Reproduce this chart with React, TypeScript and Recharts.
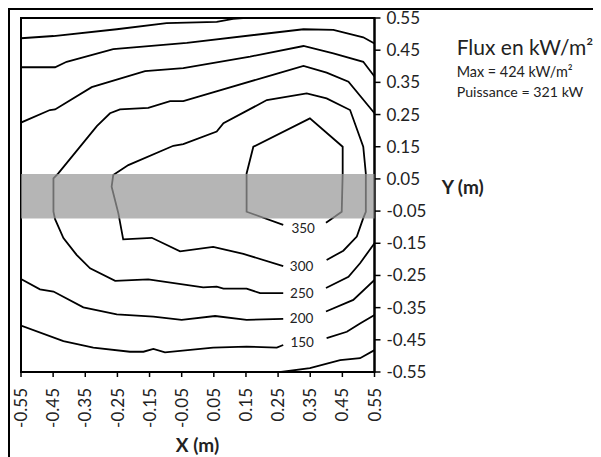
import { LineChart, Line, XAxis, YAxis, ReferenceArea, Scatter } from "recharts";

type Pt = { x: number; y: number };
const pts = (a: number[][]): Pt[] => a.map(([x, y]) => ({ x, y }));

const axisTicks = [-0.55, -0.45, -0.35, -0.25, -0.15, -0.05, 0.05, 0.15, 0.25, 0.35, 0.45, 0.55];

// contour pieces (m, m)
const c100Top = pts([[-0.55, 0.487], [-0.449, 0.494], [-0.252, 0.515], [-0.097, 0.534], [0.059, 0.538], [0.11, 0.547], [0.141, 0.55]]);
const c100Bottom = pts([[0.259, -0.55], [0.349, -0.538], [0.443, -0.513], [0.505, -0.507], [0.55, -0.482]]);
const c150Top = pts([[-0.55, 0.397], [-0.444, 0.397], [-0.408, 0.414], [-0.263, 0.453], [-0.034, 0.473], [0.329, 0.515], [0.422, 0.513], [0.515, 0.49], [0.55, 0.471]]);
const c150Left = pts([[-0.55, -0.406], [-0.418, -0.454], [-0.325, -0.474], [-0.211, -0.487], [-0.169, -0.487], [-0.138, -0.478], [-0.102, -0.489], [0.048, -0.474], [0.152, -0.471], [0.246, -0.474], [0.266, -0.466]]);
const c150Right = pts([[0.401, -0.445], [0.464, -0.425], [0.505, -0.399], [0.55, -0.373]]);
const c200Top = pts([[-0.55, 0.225], [-0.46, 0.264], [-0.444, 0.266], [-0.33, 0.335], [-0.164, 0.385], [-0.045, 0.394], [0.163, 0.43], [0.329, 0.463], [0.422, 0.44], [0.515, 0.414], [0.55, 0.368]]);
const c200Left = pts([[-0.55, -0.261], [-0.491, -0.293], [-0.449, -0.3], [-0.356, -0.349], [-0.252, -0.371], [-0.138, -0.378], [-0.05, -0.388], [0.054, -0.376], [0.152, -0.388], [0.266, -0.385]]);
const c200Right = pts([[0.399, -0.362], [0.484, -0.326], [0.55, -0.264]]);
const c250Main = pts([[0.55, 0.254], [0.469, 0.352], [0.401, 0.38], [0.329, 0.401], [0.215, 0.368], [-0.045, 0.292], [-0.086, 0.292], [-0.154, 0.271], [-0.242, 0.266], [-0.273, 0.254], [-0.314, 0.214], [-0.434, 0.067], [-0.449, 0.052], [-0.449, -0.052], [-0.444, -0.075], [-0.418, -0.134], [-0.377, -0.186], [-0.335, -0.228], [-0.257, -0.267], [-0.154, -0.262], [0.017, -0.287], [0.059, -0.285], [0.08, -0.291], [0.152, -0.291], [0.194, -0.305], [0.266, -0.305]]);
const c250Right = pts([[0.399, -0.289], [0.469, -0.254], [0.505, -0.212], [0.55, -0.15]]);
const c300 = pts([[0.266, -0.221], [0.142, -0.183], [0.048, -0.161], [-0.055, -0.175], [-0.143, -0.133], [-0.232, -0.138], [-0.247, -0.057], [-0.268, 0.026], [-0.263, 0.062], [-0.216, 0.093], [-0.076, 0.153], [-0.045, 0.158], [0.059, 0.197], [0.08, 0.223], [0.215, 0.295], [0.339, 0.316], [0.401, 0.3], [0.474, 0.264], [0.515, 0.15], [0.523, 0.067], [0.523, -0.052], [0.515, -0.072], [0.495, -0.129], [0.453, -0.173], [0.401, -0.202]]);
const c350 = pts([[0.266, -0.093], [0.152, -0.052], [0.152, 0.067], [0.173, 0.15], [0.349, 0.238], [0.451, 0.15], [0.451, 0.067], [0.448, -0.052], [0.427, -0.067], [0.399, -0.086]]);

const contours = [c100Top, c100Bottom, c150Top, c150Left, c150Right, c200Top, c200Left, c200Right, c250Main, c250Right, c300, c350];

const levelLabels = ["350", "300", "250", "200", "150"];
const labelX = [0.328, 0.323, 0.324, 0.323, 0.325];
const labelY = [-0.102, -0.221, -0.304, -0.383, -0.458];
const labelData = levelLabels.map((t, i) => ({ x: labelX[i], y: labelY[i], t }));

// measured strip (grey band)
const bandY = [-0.073, 0.065];

const FONT = "Lato, 'Open Sans', sans-serif";
const INK = "#222";

const XTick = (props: any) => {
  const { x, y, payload } = props;
  return (
    <g transform={`translate(${x},${y})`}>
      <text transform="rotate(-90)" x={-9} y={0} dy="0.36em" textAnchor="end" fontSize={17} fill={INK} fontFamily={FONT}>
        {Number(payload.value).toFixed(2)}
      </text>
    </g>
  );
};

const LevelText = (props: any) => {
  const { cx, cy, payload } = props;
  return (
    <text x={cx} y={cy} dy="0.36em" textAnchor="middle" fontSize={13.5} fill={INK} fontFamily={FONT}>
      {payload.t}
    </text>
  );
};

export default function App() {
  return (
    <div style={{ position: "relative", width: 593, height: 449, fontFamily: FONT }}>
      <div style={{ position: "absolute", left: 0, top: 0, width: 593, height: 449, borderTop: "2px solid #000", borderLeft: "2px solid #000", boxSizing: "border-box" }} />
      <div style={{ position: "absolute", left: 0, top: 0 }}>
        <LineChart width={593} height={449} margin={{ top: 10, left: 13, right: 166.5, bottom: 25 }} style={{ overflow: "visible" }}>
          <XAxis
            dataKey="x"
            type="number"
            domain={[-0.55, 0.55]}
            ticks={axisTicks}
            interval={0}
            allowDataOverflow
            height={60}
            axisLine={{ stroke: "#000", strokeWidth: 2 }}
            tickLine={{ stroke: "#000", strokeWidth: 1.5 }}
            tickSize={5}
            tick={<XTick />}
          />
          <YAxis
            dataKey="y"
            type="number"
            orientation="right"
            domain={[-0.55, 0.55]}
            ticks={axisTicks}
            interval={0}
            allowDataOverflow
            width={60}
            axisLine={{ stroke: "#000", strokeWidth: 2 }}
            tickLine={{ stroke: "#000", strokeWidth: 1.5 }}
            tickSize={6}
            tickMargin={6}
            tick={{ fontSize: 17, fill: INK, fontFamily: FONT }}
            tickFormatter={(v: number) => v.toFixed(2)}
          />
          <ReferenceArea x1={-0.55} x2={0.55} y1={-0.55} y2={0.55} fill="none" stroke="#000" strokeWidth={2} />
          {contours.map((c, i) => (
            <Line
              key={i}
              data={c}
              dataKey="y"
              type="linear"
              stroke="#000"
              strokeWidth={1.8}
              dot={false}
              activeDot={false}
              isAnimationActive={false}
            />
          ))}
          <Scatter data={labelData} dataKey="y" shape={<LevelText />} isAnimationActive={false} />
          <ReferenceArea
            x1={-0.55}
            x2={0.55}
            y1={bandY[0]}
            y2={bandY[1]}
            fill="#999"
            fillOpacity={0.72}
            stroke="none"
            {...({ zIndex: 900 } as any)}
          />
        </LineChart>
      </div>
      <svg width={593} height={449} style={{ position: "absolute", left: 0, top: 0, pointerEvents: "none" }} fontFamily={FONT}>
        <text x={448.7} y={47} fontSize={21} fill={INK}>Flux en kW/m²</text>
        <text x={448.7} y={68.7} fontSize={14.4} fill={INK}>Max = 424 kW/m²</text>
        <text x={448.7} y={88.7} fontSize={14.2} fill={INK}>Puissance = 321 kW</text>
        <text x={433.7} y={185.8} fontSize={19} fontWeight="bold" fill={INK}>Y (m)</text>
        <text x={189.5} y={444.2} fontSize={19} fontWeight="bold" fill={INK} textAnchor="middle">X (m)</text>
      </svg>
    </div>
  );
}
